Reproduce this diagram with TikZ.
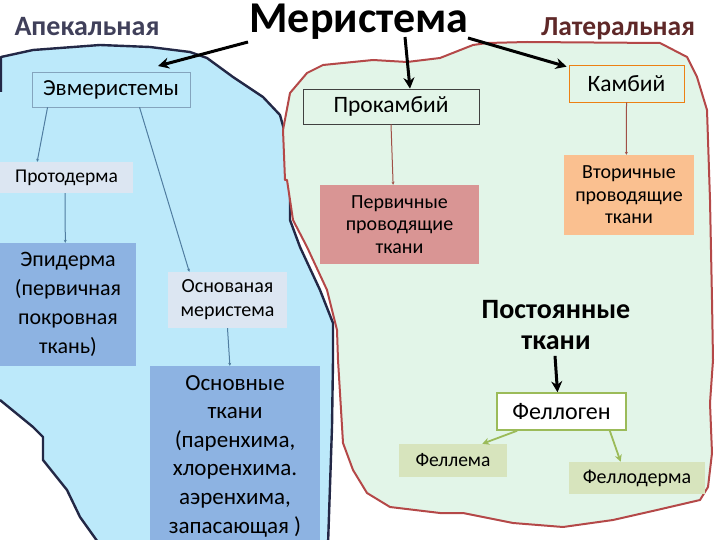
\documentclass[tikz,border=0pt]{standalone}
\usepackage{fontspec}
\setmainfont{Carlito}
\usetikzlibrary{arrows.meta,calc}
\definecolor{bluebg}{RGB}{188,233,250}
\definecolor{greenbg}{RGB}{226,245,232}
\definecolor{navyline}{RGB}{35,40,70}
\definecolor{redline}{RGB}{180,72,72}
\definecolor{lavbox}{RGB}{220,230,242}
\definecolor{midblue}{RGB}{141,179,226}
\definecolor{rosebox}{RGB}{217,149,148}
\definecolor{orangebox}{RGB}{250,192,144}
\definecolor{olivebox}{RGB}{215,228,189}
\definecolor{olivegreen}{RGB}{155,187,89}
\definecolor{steel}{RGB}{80,125,160}
\definecolor{brownline}{RGB}{160,80,70}
\definecolor{apekcol}{RGB}{64,64,90}
\definecolor{latcol}{RGB}{95,40,40}
\begin{document}
\begin{tikzpicture}[x=1pt,y=-1pt,
  boxbase/.style={inner sep=0pt, align=center, anchor=center},
  thickarrow/.style={line width=3pt, -{Stealth[length=11pt,width=11pt]}},
  thinblue/.style={steel, line width=1pt, -{Stealth[length=3pt,width=3pt]}},
  thinbrown/.style={brownline, line width=1pt, -{Stealth[length=3pt,width=3pt]}},
  greenarrow/.style={olivegreen, line width=1.8pt, -{Stealth[length=7pt,width=7pt]}}]
\useasboundingbox (0,0) rectangle (720,540);
% regions
\fill[bluebg] (0,57) -- (33,50) -- (100,45) -- (150,47) -- (190,52) -- (207,58) -- (233,77) -- (263,97) -- (280,115) -- (285,133) -- (290,160) -- (290,220) -- (300,247) -- (320,290) -- (333,323) -- (333,360) -- (332,427) -- (328,545) -- (100,545) -- (80,517) -- (67,490) -- (43,460) -- (43,437) -- (33,427) -- (0,400) -- cycle;
\draw[navyline, line width=2.4pt, line join=round] (1,92) -- (1,57) -- (33,50) -- (100,45) -- (150,47) -- (190,52) -- (207,58) -- (233,77) -- (263,97) -- (280,115) -- (285,133) -- (290,160) -- (290,220) -- (300,247) -- (320,290) -- (333,323) -- (333,360) -- (332,427) -- (328,545);
\draw[navyline, line width=2.4pt, line join=round] (0,400) -- (33,427) -- (43,437) -- (43,460) -- (67,490) -- (80,517) -- (100,545);
\filldraw[fill=greenbg, draw=redline, line width=2pt, line join=round] (285,180) -- (283,130) -- (290,93) -- (307,73) -- (323,65) -- (373,60) -- (407,62) -- (440,58) -- (473,45) -- (487,43) -- (527,42) -- (660,43) -- (687,57) -- (697,77) -- (707,110) -- (710,200) -- (712,300) -- (713,360) -- (710,403) -- (712,453) -- (708,487) -- (700,500) -- (657,510) -- (613,520) -- (563,527) -- (513,523) -- (463,513) -- (440,513) -- (390,507) -- (367,493) -- (353,470) -- (343,443) -- (340,393) -- (338,360) -- (337,330) -- (327,290) -- (307,247) -- (293,220) -- (287,180) -- cycle;
% titles
\node[inner sep=0pt, anchor=base, text=apekcol, font=\bfseries\fontsize{28}{32}\selectfont] (apek) at (87,36) {Апекальная};
\node[inner sep=0pt, anchor=base, font=\bfseries\fontsize{44}{50}\selectfont] (meris) at (359,33) {Меристема};
\node[inner sep=0pt, anchor=base, text=latcol, font=\bfseries\fontsize{27.5}{32}\selectfont] (later) at (618,36) {Латеральная};
% boxes
\node[boxbase, fill=bluebg, draw=steel!70, line width=0.6pt, minimum width=158pt, minimum height=35pt, font=\fontsize{23}{26}\selectfont] (evm) at (111,89.5) {Эвмеристемы};
\node[boxbase, fill=greenbg, draw=black!75, line width=0.7pt, minimum width=176pt, minimum height=35pt, font=\fontsize{23.5}{26}\selectfont] (prok) at (391,106.5) {Прокамбий};
\node[boxbase, fill=greenbg, draw=orange!70!brown, line width=0.7pt, minimum width=115pt, minimum height=37pt, font=\fontsize{23.5}{26}\selectfont] (kamb) at (626.5,83.5) {Камбий};
\node[boxbase, fill=lavbox, minimum width=133pt, minimum height=31pt, font=\fontsize{19.5}{22}\selectfont] (proto) at (66.5,177.5) {Протодерма};
\node[boxbase, fill=rosebox, minimum width=159pt, minimum height=79pt, font=\fontsize{20}{22.5}\selectfont] (perv) at (399.5,224.5) {Первичные\\проводящие\\ткани};
\node[boxbase, fill=orangebox, minimum width=130pt, minimum height=80pt, font=\fontsize{20}{22.5}\selectfont] (vtor) at (629,195) {Вторичные\\проводящие\\ткани};
\node[boxbase, fill=midblue, minimum width=136pt, minimum height=123pt, font=\fontsize{22}{29}\selectfont] (epid) at (68,304.5) {Эпидерма\\(первичная\\покровная\\ткань)};
\node[boxbase, fill=lavbox, minimum width=119pt, minimum height=56pt, font=\fontsize{20}{24}\selectfont] (osnm) at (227.5,300) {Основаная\\меристема};
\node[boxbase, fill=midblue, minimum width=170pt, minimum height=180pt, font=\fontsize{23}{28.6}\selectfont] (osnt) at (235,456) {Основные\\ткани\\(паренхима,\\хлоренхима.\\аэренхима,\\запасающая )};
\node[boxbase, font=\bfseries\fontsize{28}{31}\selectfont] (post) at (556,325) {Постоянные\\ткани};
\node[boxbase, fill=white, draw=olivegreen, line width=1.5pt, minimum width=129pt, minimum height=37pt, font=\fontsize{24}{26}\selectfont] (fellog) at (561.5,411.5) {Феллоген};
\node[boxbase, fill=olivebox, minimum width=108pt, minimum height=33pt, font=\fontsize{19.5}{22}\selectfont] (fellem) at (453,460.5) {Феллема};
\node[boxbase, fill=olivebox, minimum width=136pt, minimum height=32pt, font=\fontsize{20}{22}\selectfont] (fellod) at (637,478) {Феллодерма};
% thick arrows from title
\coordinate (m1) at (248,42);
\coordinate (m2) at (405,37);
\coordinate (m3) at (468,38);
\coordinate (apexreg) at (158,66);
\draw[thickarrow] (m1) -- (apexreg);
\draw[thickarrow] (m2) -- ($(prok.north)+(19,0)$);
\draw[thickarrow] (m3) -- ($(kamb.north west)+(-2,2)$);
\draw[thickarrow] ($(post.south)+(-1,6)$) -- ($(fellog.north)+(-4,0)$);
% thin connectors
\draw[thinblue] ($(evm.south west)!0.1!(evm.south east)$) -- ($(proto.north west)!0.28!(proto.north east)$);
\draw[thinblue] ($(evm.south west)!0.68!(evm.south east)$) -- ($(osnm.north west)!0.18!(osnm.north east)$);
\draw[thinblue] ($(proto.south west)!0.49!(proto.south east)$) -- ($(epid.north west)!0.48!(epid.north east)$);
\draw[thinblue] ($(osnm.south west)!0.5!(osnm.south east)$) -- ($(osnt.north west)!0.47!(osnt.north east)$);
\draw[thinbrown] ($(prok.south west)!0.5!(prok.south east)$) -- ($(perv.north west)!0.46!(perv.north east)$);
\draw[thinbrown] (kamb.south) -- ($(vtor.north west)!0.48!(vtor.north east)$);
% green arrows
\draw[greenarrow] ($(fellog.south west)!0.16!(fellog.south east)$) -- ($(fellem.north west)!0.77!(fellem.north east)$);
\draw[greenarrow] ($(fellog.south west)!0.87!(fellog.south east)$) -- ($(fellod.north west)!0.38!(fellod.north east)$);
\end{tikzpicture}
\end{document}
